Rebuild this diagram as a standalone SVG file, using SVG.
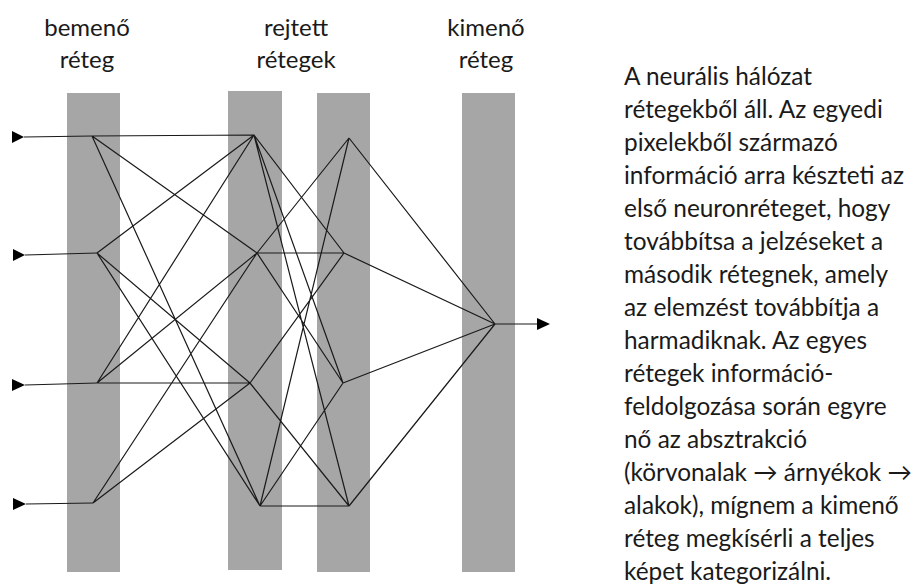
<svg xmlns="http://www.w3.org/2000/svg" width="919" height="586" viewBox="0 0 919 586">
<style>
.bar{fill:#a6a6a6}
.hdr{font-family:Lato,"Open Sans",sans-serif;font-size:24px;fill:#1a1a1a;text-anchor:middle}
.txt{font-family:Lato,"Open Sans",sans-serif;font-size:24.4px;fill:#1a1a1a}
.c{stroke:#1a1a1a;stroke-width:1.2;fill:none}
.ah{fill:#000}
</style>
<rect width="919" height="586" fill="#fff"/>
<g id="layer-input"><rect class="bar" x="67" y="93" width="53" height="479"/><text class="hdr" x="87" y="36">bemenő</text><text class="hdr" x="87" y="68">réteg</text></g>
<g id="layer-hidden1"><rect class="bar" x="228" y="91" width="54" height="479"/></g>
<g id="layer-hidden2"><rect class="bar" x="317" y="93" width="53" height="479"/></g>
<g id="label-hidden"><text class="hdr" x="296" y="36">rejtett</text><text class="hdr" x="296" y="68">rétegek</text></g>
<g id="layer-output"><rect class="bar" x="462" y="93" width="53" height="479"/><text class="hdr" x="486" y="36">kimenő</text><text class="hdr" x="486" y="68">réteg</text></g>
<g id="connectors">
<path class="c" d="M24 137L92 136M25 255L97 253M25 385L97 383M26 504L93 503M495 324L537 324"/>
<path class="c" d="M92 136L254 135M92 136L257 253M92 136L260 506M97 253L254 135M97 253L250 383M97 253L260 506M97 383L254 135M97 383L257 253M97 383L250 383M93 503L257 253M93 503L250 383"/>
<path class="c" d="M254 135L344 253M254 135L343 383M254 135L349 506M257 253L349 138M257 253L344 253M257 253L343 383M250 383L344 253M250 383L349 506M260 506L349 138M260 506L343 383M260 506L349 506"/>
<path class="c" d="M349 138L495 324M344 253L495 324M343 383L495 324M349 506L495 324"/>
<polygon class="ah" points="12,131 24,137 12,143"/>
<polygon class="ah" points="13,249 25,255 13,261"/>
<polygon class="ah" points="12,379 25,385 12,391"/>
<polygon class="ah" points="13,498 26,504 13,510"/>
<polygon class="ah" points="537,318 550,324 537,330"/>
</g>
<g id="description">
<text class="txt" x="624" y="85">A neurális hálózat</text>
<text class="txt" x="624" y="118">rétegekből áll. Az egyedi</text>
<text class="txt" x="624" y="151">pixelekből származó</text>
<text class="txt" x="624" y="184">információ arra készteti az</text>
<text class="txt" x="624" y="217">első neuronréteget, hogy</text>
<text class="txt" x="624" y="250">továbbítsa a jelzéseket a</text>
<text class="txt" x="624" y="283">második rétegnek, amely</text>
<text class="txt" x="624" y="316">az elemzést továbbítja a</text>
<text class="txt" x="624" y="349">harmadiknak. Az egyes</text>
<text class="txt" x="624" y="382">rétegek információ-</text>
<text class="txt" x="624" y="415">feldolgozása során egyre</text>
<text class="txt" x="624" y="448">nő az absztrakció</text>
<text class="txt" x="624" y="481">(körvonalak → árnyékok →</text>
<text class="txt" x="624" y="514">alakok), mígnem a kimenő</text>
<text class="txt" x="624" y="547">réteg megkísérli a teljes</text>
<text class="txt" x="624" y="580">képet kategorizálni.</text>
</g>
</svg>
